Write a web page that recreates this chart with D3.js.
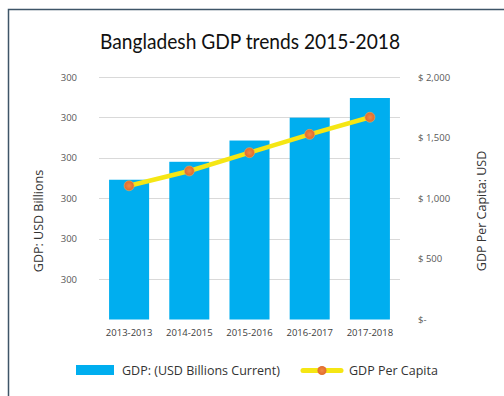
<!DOCTYPE html>
<html>
<head>
<meta charset="utf-8">
<script src="https://cdn.jsdelivr.net/npm/d3@7"></script>
<style>
  html, body { margin: 0; padding: 0; background: #fff; }
  svg { display: block; font-family: "Open Sans", "Noto Sans", sans-serif; }
</style>
</head>
<body>
<svg id="chart" width="504" height="396"></svg>
<script>
// Fiscal years on the x axis
const years = ["2013-2013", "2014-2015", "2015-2016", "2016-2017", "2017-2018"];
// GDP, USD billions (bars, left axis)
const gdpBillions = [172.9, 195.1, 221.4, 249.7, 274.0];
// GDP per capita, USD (line, right axis)
const gdpPerCapita = [1103, 1225, 1376, 1527, 1668];
// Left axis ticks and the labels printed on them
const leftTicks = [50, 100, 150, 200, 250, 300];
const leftTickLabels = ["300", "300", "300", "300", "300", "300"];
// Right axis ticks and labels
const rightTicks = [0, 500, 1000, 1500, 2000];
const rightTickLabels = ["$-", "$ 500", "$ 1,000", "$ 1,500", "$ 2,000"];

const title = "Bangladesh GDP trends 2015-2018";
const leftTitle = "GDP: USD Billions";
const rightTitle = "GDP Per Capita: USD";
const legendBar = "GDP: (USD Billions Current)";
const legendLine = "GDP Per Capita";

const svg = d3.select("#chart");

// outer frame
svg.append("rect")
  .attr("x", 8.5).attr("y", 9.5)
  .attr("width", 520).attr("height", 420)
  .attr("fill", "none")
  .attr("stroke", "#3e5568")
  .attr("stroke-width", 1.5);

const plot = { left: 99, right: 400, top: 77, bottom: 319.5 };

const x = d3.scaleBand()
  .domain(years)
  .range([plot.left, plot.right])
  .paddingInner(0.335)
  .paddingOuter(0.1675);

const yL = d3.scaleLinear().domain([0, 300]).range([plot.bottom, plot.top]);
const yR = d3.scaleLinear().domain([0, 2000]).range([plot.bottom, plot.top]);

// title
svg.append("text")
  .attr("x", 100).attr("y", 49)
  .attr("font-family", "Lato, sans-serif")
  .attr("font-size", 20.5)
  .attr("textLength", 300)
  .attr("lengthAdjust", "spacingAndGlyphs")
  .attr("fill", "#111")
  .text(title);

// gridlines
svg.append("g")
  .selectAll("line")
  .data(leftTicks)
  .join("line")
  .attr("x1", plot.left).attr("x2", plot.right)
  .attr("y1", d => Math.round(yL(d)) + 0.5)
  .attr("y2", d => Math.round(yL(d)) + 0.5)
  .attr("stroke", "#d9d9d9")
  .attr("stroke-width", 1.2);

// left axis
const leftAxis = d3.axisLeft(yL)
  .tickValues(leftTicks)
  .tickFormat((d, i) => leftTickLabels[i])
  .tickSize(0)
  .tickPadding(0);
const gL = svg.append("g")
  .attr("transform", `translate(${77},0)`)
  .call(leftAxis);
gL.select(".domain").remove();
gL.selectAll("text")
  .attr("font-size", 9.5)
  .attr("fill", "#595959")
  .attr("font-family", "Open Sans, sans-serif");

// right axis
const rightAxis = d3.axisRight(yR)
  .tickValues(rightTicks)
  .tickFormat((d, i) => rightTickLabels[i])
  .tickSize(0)
  .tickPadding(0);
const gR = svg.append("g")
  .attr("transform", `translate(${418},0)`)
  .call(rightAxis);
gR.select(".domain").remove();
gR.selectAll("text")
  .attr("font-size", 9.5)
  .attr("fill", "#595959")
  .attr("font-family", "Open Sans, sans-serif");

// x axis labels
const xAxis = d3.axisBottom(x).tickSize(0).tickPadding(0);
const gX = svg.append("g")
  .attr("transform", `translate(0,${plot.bottom + 10})`)
  .call(xAxis);
gX.select(".domain").remove();
gX.selectAll("text")
  .attr("font-size", 9.5)
  .attr("fill", "#404040")
  .attr("font-family", "Open Sans, sans-serif");

// bars
svg.append("g")
  .selectAll("rect")
  .data(gdpBillions)
  .join("rect")
  .attr("x", (d, i) => x(years[i]))
  .attr("width", x.bandwidth())
  .attr("y", d => yL(d))
  .attr("height", d => plot.bottom - yL(d))
  .attr("fill", "#00aeef");

// per capita line
const line = d3.line()
  .x((d, i) => x(years[i]) + x.bandwidth() / 2)
  .y(d => yR(d));

svg.append("path")
  .datum(gdpPerCapita)
  .attr("d", line)
  .attr("fill", "none")
  .attr("stroke", "#f5e614")
  .attr("stroke-width", 4.5)
  .attr("stroke-linecap", "round");

const defs = svg.append("defs");
const grad = defs.append("radialGradient").attr("id", "dot");
grad.append("stop").attr("offset", "0%").attr("stop-color", "#f08a45");
grad.append("stop").attr("offset", "100%").attr("stop-color", "#e06a2c");

svg.append("g")
  .selectAll("circle")
  .data(gdpPerCapita)
  .join("circle")
  .attr("cx", (d, i) => x(years[i]) + x.bandwidth() / 2)
  .attr("cy", d => yR(d))
  .attr("r", 5)
  .attr("fill", "url(#dot)")
  .attr("stroke", "#e8b060")
  .attr("stroke-width", 0.6);

// axis titles
svg.append("text")
  .attr("transform", `translate(43,221) rotate(-90)`)
  .attr("text-anchor", "middle")
  .attr("font-size", 12.5)
  .attr("fill", "#333")
  .text(leftTitle);

svg.append("text")
  .attr("transform", `translate(486,211) rotate(-90)`)
  .attr("text-anchor", "middle")
  .attr("font-size", 12.5)
  .attr("fill", "#333")
  .text(rightTitle);

// legend
const lg = svg.append("g");
lg.append("rect")
  .attr("x", 76).attr("y", 365)
  .attr("width", 38).attr("height", 10)
  .attr("fill", "#00aeef");
lg.append("text")
  .attr("x", 122).attr("y", 374.5)
  .attr("font-size", 12.5)
  .attr("fill", "#333")
  .text(legendBar);
lg.append("line")
  .attr("x1", 303).attr("x2", 341)
  .attr("y1", 370.5).attr("y2", 370.5)
  .attr("stroke", "#f5e614")
  .attr("stroke-width", 5)
  .attr("stroke-linecap", "round");
lg.append("circle")
  .attr("cx", 322).attr("cy", 370.5).attr("r", 4.5)
  .attr("fill", "url(#dot)");
lg.append("text")
  .attr("x", 349).attr("y", 375)
  .attr("font-size", 12.5)
  .attr("fill", "#333")
  .text(legendLine);
</script>
</body>
</html>
